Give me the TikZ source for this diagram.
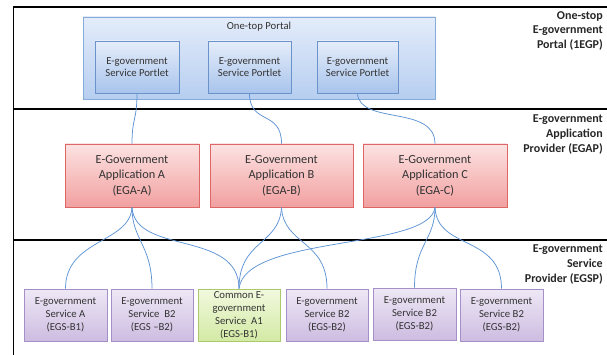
\documentclass[tikz,border=0pt]{standalone}
\usepackage{fontspec}
\setmainfont{Carlito}
\usetikzlibrary{shadows}
\definecolor{conn}{HTML}{5E94D4}
\definecolor{bluebd}{HTML}{86AADA}
\definecolor{bluebd2}{HTML}{6A93CB}
\definecolor{redbd}{HTML}{DD6666}
\definecolor{purbd}{HTML}{A58FC8}
\definecolor{grnbd}{HTML}{A9C96A}
\definecolor{portT}{HTML}{E3ECFA}
\definecolor{portB}{HTML}{B7CEF0}
\definecolor{pletT}{HTML}{E5EDFA}
\definecolor{pletB}{HTML}{A8C4EC}
\definecolor{redT}{HTML}{FCE2E2}
\definecolor{redB}{HTML}{F2A0A0}
\definecolor{purT}{HTML}{EEE8F5}
\definecolor{purB}{HTML}{CDBCE1}
\definecolor{grnT}{HTML}{F2F9DF}
\definecolor{grnB}{HTML}{D3EAA4}
\tikzset{
  shd/.style={drop shadow={opacity=0.25,shadow xshift=1pt,shadow yshift=-1.2pt}},
  portalbox/.style={draw=bluebd,line width=0.7pt,top color=portT,bottom color=portB,shd,inner sep=0pt},
  portletbox/.style={draw=bluebd2,line width=0.7pt,top color=pletT,bottom color=pletB,shd,inner sep=0pt,align=center,font=\fontsize{10.7}{12.5}\selectfont,text=black!80,minimum height=52pt},
  egabox/.style={draw=redbd,line width=0.7pt,top color=redT,bottom color=redB,shd,inner sep=0pt,align=center,font=\fontsize{12.3}{15.6}\selectfont,text=black!80,minimum height=63pt},
  svcbox/.style={draw=purbd,line width=0.7pt,top color=purT,bottom color=purB,shd,inner sep=0pt,align=center,font=\fontsize{10.7}{13}\selectfont,text=black!80,minimum height=52pt,minimum width=82pt},
  cmnbox/.style={svcbox,draw=grnbd,top color=grnT,bottom color=grnB},
  layerlabel/.style={align=right,anchor=north east,inner sep=0pt,font=\fontsize{12}{14.6}\selectfont\bfseries,text=black!85},
  conline/.style={draw=conn,line width=0.75pt},
  sepline/.style={draw=black,line width=1.3pt}
}
\begin{document}
\begin{tikzpicture}[x=1pt,y=-1pt]
\useasboundingbox (0,0) rectangle (607,355);
% layer lines
\coordinate (tl) at (13.5,7);
\coordinate (tr) at (607,7);
\coordinate (bl) at (13.5,355);
\coordinate (s1l) at (13.5,109);
\coordinate (s1r) at (607,109);
\coordinate (s2l) at (13.5,240);
\coordinate (s2r) at (607,240);
\draw[sepline] (tr) -- (tl) -- (bl);
\draw[sepline] (s1l) -- (s1r);
\draw[sepline] (s2l) -- (s2r);
% layer labels
\node[layerlabel] (l1) at (603,11) {One-stop\\E-government\\Portal (1EGP)};
\node[layerlabel] (l2) at (603,115) {E-government\\Application\\Provider (EGAP)};
\node[layerlabel] (l3) at (603,245) {E-government\\Service\\Provider (EGSP)};
% portal
\node[portalbox,minimum width=352pt,minimum height=82pt] (portal) at (259,58) {};
\node[font=\fontsize{10.7}{12.5}\selectfont,text=black!80,inner sep=0pt] (ptitle) at (259,27) {One-top Portal};
\node[portletbox,minimum width=84pt] (p1) at (137,67) {E-government\\Service Portlet};
\node[portletbox,minimum width=83pt] (p2) at (249.5,67) {E-government\\Service Portlet};
\node[portletbox,minimum width=81pt] (p3) at (357.5,67) {E-government\\Service Portlet};
% applications
\node[egabox,minimum width=134pt] (ea) at (132,175.5) {E-Government\\Application A\\(EGA-A)};
\node[egabox,minimum width=143pt] (eb) at (281.5,175.5) {E-Government\\Application B\\(EGA-B)};
\node[egabox,minimum width=144pt] (ec) at (435,175.5) {E-Government\\Application C\\(EGA-C)};
% services
\node[svcbox,minimum width=83pt] (s1) at (65.5,315) {E-government\\Service A\\(EGS-B1)};
\node[svcbox] (s2) at (152,315) {E-government\\Service\ \ B2\\(EGS --B2)};
\node[cmnbox] (s3) at (239,315) {Common E-\\government\\Service\ \ A1\\(EGS-B1)};
\node[svcbox] (s4) at (327,315) {E-government\\Service B2\\(EGS-B2)};
\node[svcbox,minimum width=83pt] (s5) at (414.5,314) {E-government\\Service B2\\(EGS-B2)};
\node[svcbox,minimum width=83pt] (s6) at (501.5,315) {E-government\\Service B2\\(EGS-B2)};
% connectors portal -> applications
\draw[conline] (p1.south) .. controls +(0,27) and +(0,-26) .. (ea.north);
\draw[conline] (p2.south) .. controls +(0,32) and +(0,-34) .. (eb.north);
\draw[conline] (p3.south) .. controls +(2,32) and +(0,-39) .. (ec.north);
% connectors applications -> services
\draw[conline] (ea.south) .. controls +(-2,36) and +(0,-50) .. (s1.north);
\draw[conline] (ea.south) .. controls +(0,33) and +(0,-44) .. (s2.north);
\draw[conline] (ea.south) .. controls +(3,48) and +(0,-59) .. (s3.north);
\draw[conline] (eb.south) .. controls +(-2,38) and +(0,-49) .. (s3.north);
\draw[conline] (eb.south) .. controls +(2,38) and +(0,-49) .. (s4.north);
\draw[conline] (ec.south) .. controls +(-5,43) and +(6,-54) .. (s3.north);
\draw[conline] (ec.south) .. controls +(0,33) and +(0,-44) .. (s5.north);
\draw[conline] (ec.south) .. controls +(2,43) and +(0,-54) .. (s6.north);
\end{tikzpicture}
\end{document}
